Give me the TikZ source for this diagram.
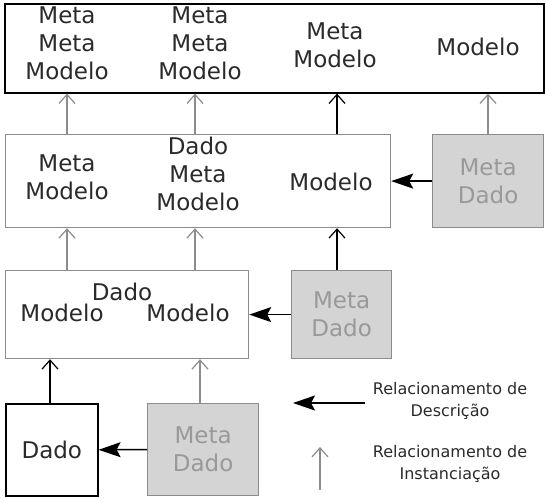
\documentclass[tikz,border=0pt]{standalone}
\usepackage{fontspec}
\setmainfont{DejaVu Sans}
\usetikzlibrary{arrows.meta}
\definecolor{boxgray}{HTML}{8C8C8C}
\definecolor{mdfill}{HTML}{D4D4D4}
\definecolor{mdtext}{HTML}{999999}
\definecolor{txt}{HTML}{2A2A2A}
\tikzset{
  frame/.style={draw=boxgray, line width=1.2pt, rectangle, anchor=north west, inner sep=0pt},
  blackframe/.style={frame, draw=black, line width=1.6pt},
  metadado/.style={frame, fill=mdfill},
  lbl/.style={align=center, inner sep=0pt, text=txt, font=\fontsize{23}{28}\selectfont},
  mdlbl/.style={lbl, text=mdtext},
  legtxt/.style={align=center, inner sep=0pt, text=txt, font=\fontsize{16}{22}\selectfont},
  instarrow/.tip={Straight Barb[length=9pt,width=16pt,line width=1.2pt]},
  descarrow/.tip={Stealth[length=22pt,width=15pt,inset=4pt]},
  inst/.style={draw=boxgray, line width=1.2pt, -instarrow},
  instdark/.style={inst, draw=black},
  desc/.style={draw=black, line width=1.5pt, -descarrow},
}
\begin{document}
\begin{tikzpicture}[x=1pt,y=-1pt]
  \useasboundingbox (0,0) rectangle (545,497);

  % frames of each level
  \node[blackframe, minimum width=539pt, minimum height=89pt] (top) at (4,3) {};
  \node[frame, minimum width=385pt, minimum height=93pt] (lv2) at (5,134) {};
  \node[metadado, minimum width=111pt, minimum height=93pt] (md2) at (432,134) {};
  \node[frame, minimum width=243pt, minimum height=88pt] (lv3) at (5,270) {};
  \node[metadado, minimum width=100pt, minimum height=88pt] (md3) at (291,270) {};
  \node[blackframe, minimum width=92pt, minimum height=92pt] (dado) at (5,403) {};
  \node[metadado, minimum width=111pt, minimum height=92pt] (md4) at (147,403) {};

  % texts of the top level
  \node[lbl] (t1) at (67,43) {Meta\\Meta\\Modelo};
  \node[lbl] (t2) at (200,43) {Meta\\Meta\\Modelo};
  \node[lbl] (t3) at (335,45) {Meta\\Modelo};
  \node[lbl] (t4) at (478,47) {Modelo};

  % texts of the second level
  \node[lbl] (m1) at (67,177) {Meta\\Modelo};
  \node[lbl] (m2) at (198,174) {Dado\\Meta\\Modelo};
  \node[lbl] (m3) at (331,182) {Modelo};
  \node[mdlbl] (md2t) at (md2.center) {Meta\\Dado};

  % texts of the third level
  \node[lbl] (d3) at (122,292) {Dado};
  \node[lbl] (d3a) at (62,313) {Modelo};
  \node[lbl] (d3b) at (188,313) {Modelo};
  \node[mdlbl] (md3t) at (md3.center) {Meta\\Dado};

  % texts of the bottom level
  \node[lbl] (dadot) at (dado.center) {Dado};
  \node[mdlbl] (md4t) at (md4.center) {Meta\\Dado};

  % columns of the instantiation arrows
  \coordinate (c1) at (67,0);
  \coordinate (c2) at (195,0);
  \coordinate (c3) at (337,0);
  \coordinate (c4) at (488,0);
  \coordinate (c5) at (50,0);
  \coordinate (c6) at (200,0);

  % instantiation
  \draw[inst] (lv2.north -| c1) -- (top.south -| c1);
  \draw[inst] (lv2.north -| c2) -- (top.south -| c2);
  \draw[instdark] (lv2.north -| c3) -- (top.south -| c3);
  \draw[inst] (md2.north -| c4) -- (top.south -| c4);
  \draw[inst] (lv3.north -| c1) -- (lv2.south -| c1);
  \draw[inst] (lv3.north -| c2) -- (lv2.south -| c2);
  \draw[instdark] (md3.north -| c3) -- (lv2.south -| c3);
  \draw[instdark] (dado.north -| c5) -- (lv3.south -| c5);
  \draw[inst] (md4.north -| c6) -- (lv3.south -| c6);

  % description
  \draw[desc] (md2.west) -- (lv2.east);
  \draw[desc] (md3.west) -- (lv3.east);
  \draw[desc] (md4.west) -- (dado.east);

  % legend
  \coordinate (ldA) at (365,403);
  \coordinate (ldB) at (293,403);
  \draw[desc] (ldA) -- (ldB);
  \node[legtxt] (ld) at (450,401) {Relacionamento de\\Descrição};
  \coordinate (liA) at (320,490);
  \coordinate (liB) at (320,447);
  \draw[inst] (liA) -- (liB);
  \node[legtxt] (li) at (450,464) {Relacionamento de\\Instanciação};
\end{tikzpicture}
\end{document}
